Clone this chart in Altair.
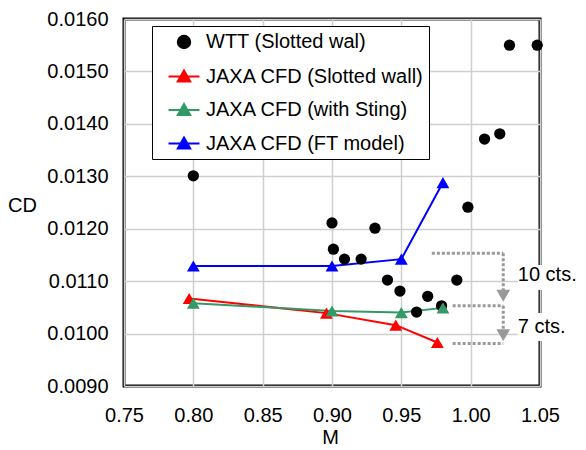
import altair as alt
import pandas as pd

# ---------------- data ----------------
series_names = ["WTT (Slotted wal)", "JAXA CFD (Slotted wall)",
                "JAXA CFD (with Sting)", "JAXA CFD (FT model)"]
series_colors = ["#000000", "#ff0000", "#339966", "#0000ff"]

wtt_m = [0.800, 0.900, 0.901, 0.909, 0.921, 0.931, 0.940, 0.949, 0.961,
         0.969, 0.979, 0.990, 0.998, 1.010, 1.021, 1.028, 1.048]
wtt_cd = [0.01301, 0.01211, 0.01161, 0.01142, 0.01142, 0.01201, 0.01102,
          0.01081, 0.01041, 0.01071, 0.01053, 0.01102, 0.01241, 0.01371,
          0.01381, 0.01550, 0.01550]

red_m = [0.797, 0.896, 0.946, 0.976]
red_cd = [0.01067, 0.01039, 0.01016, 0.00983]

green_m = [0.800, 0.900, 0.950, 0.980]
green_cd = [0.01058, 0.01043, 0.01040, 0.01049]

blue_m = [0.800, 0.900, 0.950, 0.980]
blue_cd = [0.01129, 0.01129, 0.01142, 0.01288]

x_ticks = [0.75, 0.80, 0.85, 0.90, 0.95, 1.00, 1.05]
y_ticks = [0.0090, 0.0100, 0.0110, 0.0120, 0.0130, 0.0140, 0.0150, 0.0160]

# annotation (dotted arrows and labels)
seg_x = [0.972, 1.0235, 0.987, 1.0235, 0.987]
seg_x2 = [1.0235, 1.0235, 1.0235, 1.0235, 1.0235]
seg_y = [0.01153, 0.01153, 0.01053, 0.01053, 0.00981]
seg_y2 = [0.01153, 0.01075, 0.01053, 0.01000, 0.00981]
arrow_x = [1.0235, 1.0235]
arrow_y = [0.01072, 0.00997]
label_text = ["10 cts.", "7 cts."]
label_x = [1.034, 1.034]
label_y = [0.01112, 0.01013]
box_x = [1.034, 1.034]
box_x2 = [1.075, 1.070]
box_y = [0.01083, 0.00986]
box_y2 = [0.01131, 0.01039]

# ---------------- tables ----------------
df_wtt = pd.DataFrame({"M": wtt_m, "CD": wtt_cd})
cfd_series = [(red_m, red_cd), (green_m, green_cd), (blue_m, blue_cd)]
df_seg = pd.DataFrame({"x": seg_x, "x2": seg_x2, "y": seg_y, "y2": seg_y2})
df_arrow = pd.DataFrame({"x": arrow_x, "y": arrow_y})
df_label = pd.DataFrame({"x": label_x, "y": label_y, "t": label_text})
df_box = pd.DataFrame({"x": box_x, "x2": box_x2, "y": box_y, "y2": box_y2})
df_leg = pd.DataFrame({"series": series_names})

FONT = "Liberation Sans"

xscale = alt.Scale(domain=[0.75, 1.05], nice=False, zero=False)
yscale = alt.Scale(domain=[0.009, 0.016], nice=False, zero=False)
xaxis = alt.Axis(values=x_ticks, format=".2f", title="M", labelPadding=19,
                 labelFlush=False, titleX=206, titleY=51, titleBaseline="middle")
yaxis = alt.Axis(values=y_ticks, format=".4f", title="CD", labelPadding=16,
                 labelFlush=False, titleAngle=0, titleX=-102, titleY=186,
                 titleAlign="center", titleBaseline="middle")

X = alt.X("M:Q", scale=xscale, axis=xaxis)
Y = alt.Y("CD:Q", scale=yscale, axis=yaxis)

layers = []
for (m, c), col in zip(cfd_series, series_colors[1:]):
    d = pd.DataFrame({"M": m, "CD": c})
    layers.append(alt.Chart(d).mark_line(strokeWidth=2, color=col)
                  .encode(x=X, y=Y, order="M:Q"))

layers.append(alt.Chart(df_wtt).mark_circle(size=127, opacity=1, color="black")
              .encode(x=X, y=Y))

for (m, c), col in zip(cfd_series, series_colors[1:]):
    d = pd.DataFrame({"M": m, "CD": c})
    layers.append(alt.Chart(d)
                  .mark_point(shape="triangle-up", filled=True, size=165,
                              opacity=1, color=col)
                  .encode(x=X, y=Y))

# annotations
layers.append(alt.Chart(df_seg).mark_rule(color="#999999", strokeWidth=3,
                                           strokeDash=[3, 2])
              .encode(x=alt.X("x:Q", scale=xscale), x2="x2:Q",
                      y=alt.Y("y:Q", scale=yscale), y2="y2:Q"))
layers.append(alt.Chart(df_arrow).mark_point(shape="triangle-down", filled=True,
                                             size=190, opacity=1, color="#999999")
              .encode(x=alt.X("x:Q", scale=xscale), y=alt.Y("y:Q", scale=yscale)))
layers.append(alt.Chart(df_box).mark_rect(color="white")
              .encode(x=alt.X("x:Q", scale=xscale), x2="x2:Q",
                      y=alt.Y("y:Q", scale=yscale), y2="y2:Q"))
layers.append(alt.Chart(df_label).mark_text(align="left", baseline="middle",
                                            fontSize=20, font=FONT, color="black")
              .encode(x=alt.X("x:Q", scale=xscale), y=alt.Y("y:Q", scale=yscale),
                      text="t:N"))

# legend (symbol = line + triangle for CFD, circle for WTT)
color_scale = alt.Scale(domain=series_names, range=series_colors)
circle_path = "M-0.62,0A0.62,0.62,0,1,0,0.62,0A0.62,0.62,0,1,0,-0.62,0Z"
tri_path = "M-1.55,0L1.55,0M0,-0.6L0.62,0.5L-0.62,0.5Z"
leg = alt.Legend(title=None, orient="none", legendX=28, legendY=7,
                 symbolSize=400, symbolStrokeWidth=2, symbolOffset=16,
                 labelOffset=11, labelFontSize=20, labelFont=FONT,
                 labelColor="black", rowPadding=12.5, padding=5,
                 strokeColor="black", fillColor="white", symbolOpacity=1,
                 labelLimit=400)
layers.append(
    alt.Chart(df_leg)
    .mark_point(filled=True, opacity=0)
    .encode(
        fill=alt.Fill("series:N", scale=color_scale, legend=leg),
        stroke=alt.Stroke("series:N", scale=color_scale, legend=leg),
        shape=alt.Shape("series:N",
                        scale=alt.Scale(domain=series_names,
                                        range=[circle_path, tri_path, tri_path, tri_path]),
                        legend=leg)))

chart = (
    alt.layer(*layers)
    .properties(width=416, height=367,
                autosize=alt.AutoSizeParams(type="none"),
                padding={"left": 116, "top": 11, "right": 38, "bottom": 62})
    .configure_view(stroke="black", strokeWidth=3)
    .configure_axis(grid=True, gridColor="#cfcfcf", gridWidth=1.5, domain=False,
                    ticks=False, labelFont=FONT, labelFontSize=20,
                    labelColor="black", titleFont=FONT, titleFontSize=20,
                    titleFontWeight="normal", titleColor="black")
)

chart.save("out.html", embed_options={"renderer": "svg", "actions": False})
